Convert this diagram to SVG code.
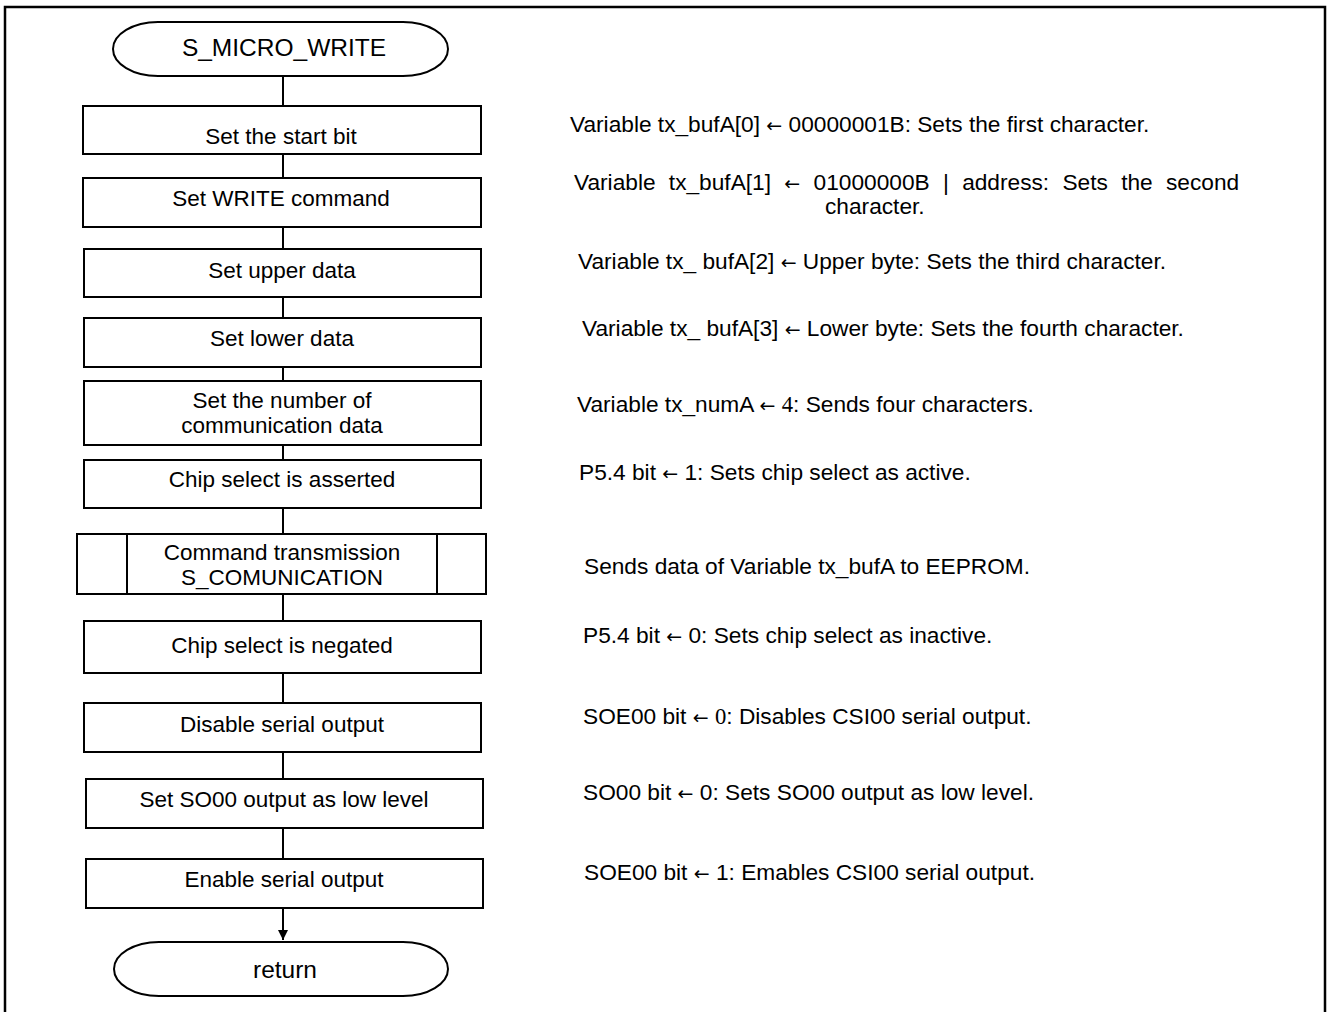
<svg xmlns="http://www.w3.org/2000/svg" width="1328" height="1012" viewBox="0 0 1328 1012">
  <style>
    .frame { fill: none; stroke: #000; stroke-width: 2.5; }
    .box { fill: #fff; stroke: #000; stroke-width: 2; }
    .term { fill: #fff; stroke: #000; stroke-width: 2; }
    .wire { fill: none; stroke: #000; stroke-width: 2; }
    .lbl { font-family: "Liberation Sans", Arial, sans-serif; font-size: 22.5px; fill: #000; text-anchor: middle; }
    .tlbl { font-family: "Liberation Sans", Arial, sans-serif; font-size: 24.5px; fill: #000; text-anchor: middle; }
    .note { font-family: "Liberation Sans", Arial, sans-serif; font-size: 22.7px; fill: #000; }
    .num { font-family: "Liberation Serif", "Times New Roman", serif; }
    .arr { font-family: "DejaVu Sans", sans-serif; font-size: 19px; }
  </style>
  <defs>
    <marker id="arrow" viewBox="0 0 10 10" refX="10" refY="5" markerWidth="10" markerHeight="10" markerUnits="userSpaceOnUse" orient="auto">
      <path d="M0,0 L10,5 L0,10 Z" fill="#000"/>
    </marker>
  </defs>

  <rect width="1328" height="1012" fill="#fff"/>
  <!-- outer frame (open at the bottom edge) -->
  <path class="frame" d="M5,1016 V7 H1325 V1016"/>

  <!-- connectors -->
  <g id="connectors">
    <line class="wire" x1="283" y1="76" x2="283" y2="106"/>
    <line class="wire" x1="283" y1="154" x2="283" y2="178"/>
    <line class="wire" x1="283" y1="227" x2="283" y2="249"/>
    <line class="wire" x1="283" y1="297" x2="283" y2="318"/>
    <line class="wire" x1="283" y1="367" x2="283" y2="381"/>
    <line class="wire" x1="283" y1="445" x2="283" y2="460"/>
    <line class="wire" x1="283" y1="508" x2="283" y2="534"/>
    <line class="wire" x1="283" y1="594" x2="283" y2="621"/>
    <line class="wire" x1="283" y1="673" x2="283" y2="703"/>
    <line class="wire" x1="283" y1="752" x2="283" y2="779"/>
    <line class="wire" x1="283" y1="828" x2="283" y2="859"/>
    <line class="wire" x1="283" y1="908" x2="283" y2="940" marker-end="url(#arrow)"/>
  </g>

  <!-- flow nodes -->
  <g id="start">
    <rect class="term" x="113" y="22" width="335" height="54" rx="45" ry="27"/>
    <text class="tlbl" x="284" y="56">S_MICRO_WRITE</text>
  </g>
  <g id="set-start-bit">
    <rect class="box" x="83" y="106" width="398" height="48"/>
    <text class="lbl" x="281" y="144">Set the start bit</text>
  </g>
  <g id="set-write-cmd">
    <rect class="box" x="83" y="178" width="398" height="49"/>
    <text class="lbl" x="281" y="206">Set WRITE command</text>
  </g>
  <g id="set-upper">
    <rect class="box" x="84" y="249" width="397" height="48"/>
    <text class="lbl" x="282" y="278">Set upper data</text>
  </g>
  <g id="set-lower">
    <rect class="box" x="84" y="318" width="397" height="49"/>
    <text class="lbl" x="282" y="346">Set lower data</text>
  </g>
  <g id="set-count">
    <rect class="box" x="84" y="381" width="397" height="64"/>
    <text class="lbl" x="282" y="408">Set the number of</text>
    <text class="lbl" x="282" y="433">communication data</text>
  </g>
  <g id="cs-assert">
    <rect class="box" x="84" y="460" width="397" height="48"/>
    <text class="lbl" x="282" y="487">Chip select is asserted</text>
  </g>
  <g id="cmd-transmit">
    <rect class="box" x="77" y="534" width="409" height="60"/>
    <line class="wire" x1="127" y1="534" x2="127" y2="594"/>
    <line class="wire" x1="437" y1="534" x2="437" y2="594"/>
    <text class="lbl" x="282" y="560">Command transmission</text>
    <text class="lbl" x="282" y="585">S_COMUNICATION</text>
  </g>
  <g id="cs-negate">
    <rect class="box" x="84" y="621" width="397" height="52"/>
    <text class="lbl" x="282" y="653">Chip select is negated</text>
  </g>
  <g id="disable-out">
    <rect class="box" x="84" y="703" width="397" height="49"/>
    <text class="lbl" x="282" y="732">Disable serial output</text>
  </g>
  <g id="so-low">
    <rect class="box" x="86" y="779" width="397" height="49"/>
    <text class="lbl" x="284" y="807">Set SO00 output as low level</text>
  </g>
  <g id="enable-out">
    <rect class="box" x="86" y="859" width="397" height="49"/>
    <text class="lbl" x="284" y="887">Enable serial output</text>
  </g>
  <g id="return">
    <rect class="term" x="114" y="942" width="334" height="54" rx="45" ry="27"/>
    <text class="tlbl" x="285" y="978">return</text>
  </g>

  <!-- side notes -->
  <g id="notes">
    <text class="note" x="570" y="132">Variable tx_bufA[0] <tspan class="arr">←</tspan> 00000001B: Sets the first character.</text>
    <text class="note" x="574" y="190" word-spacing="7">Variable tx_bufA[1] <tspan class="arr">←</tspan> 01000000B | address: Sets the second</text>
    <text class="note" x="825" y="214">character.</text>
    <text class="note" x="578" y="269">Variable tx_ bufA[2] <tspan class="arr">←</tspan> Upper byte: Sets the third character.</text>
    <text class="note" x="582" y="336">Variable tx_ bufA[3] <tspan class="arr">←</tspan> Lower byte: Sets the fourth character.</text>
    <text class="note" x="577" y="412">Variable tx_numA <tspan class="arr">←</tspan> <tspan class="num">4</tspan>: Sends four characters.</text>
    <text class="note" x="579" y="480">P5.4 bit <tspan class="arr">←</tspan> 1: Sets chip select as active.</text>
    <text class="note" x="584" y="574">Sends data of Variable tx_bufA to EEPROM.</text>
    <text class="note" x="583" y="643">P5.4 bit <tspan class="arr">←</tspan> 0: Sets chip select as inactive.</text>
    <text class="note" x="583" y="724">SOE00 bit <tspan class="arr">←</tspan> <tspan class="num">0</tspan>: Disables CSI00 serial output.</text>
    <text class="note" x="583" y="800">SO00 bit <tspan class="arr">←</tspan> 0: Sets SO00 output as low level.</text>
    <text class="note" x="584" y="880">SOE00 bit <tspan class="arr">←</tspan> 1: Emables CSI00 serial output.</text>
  </g>
</svg>
